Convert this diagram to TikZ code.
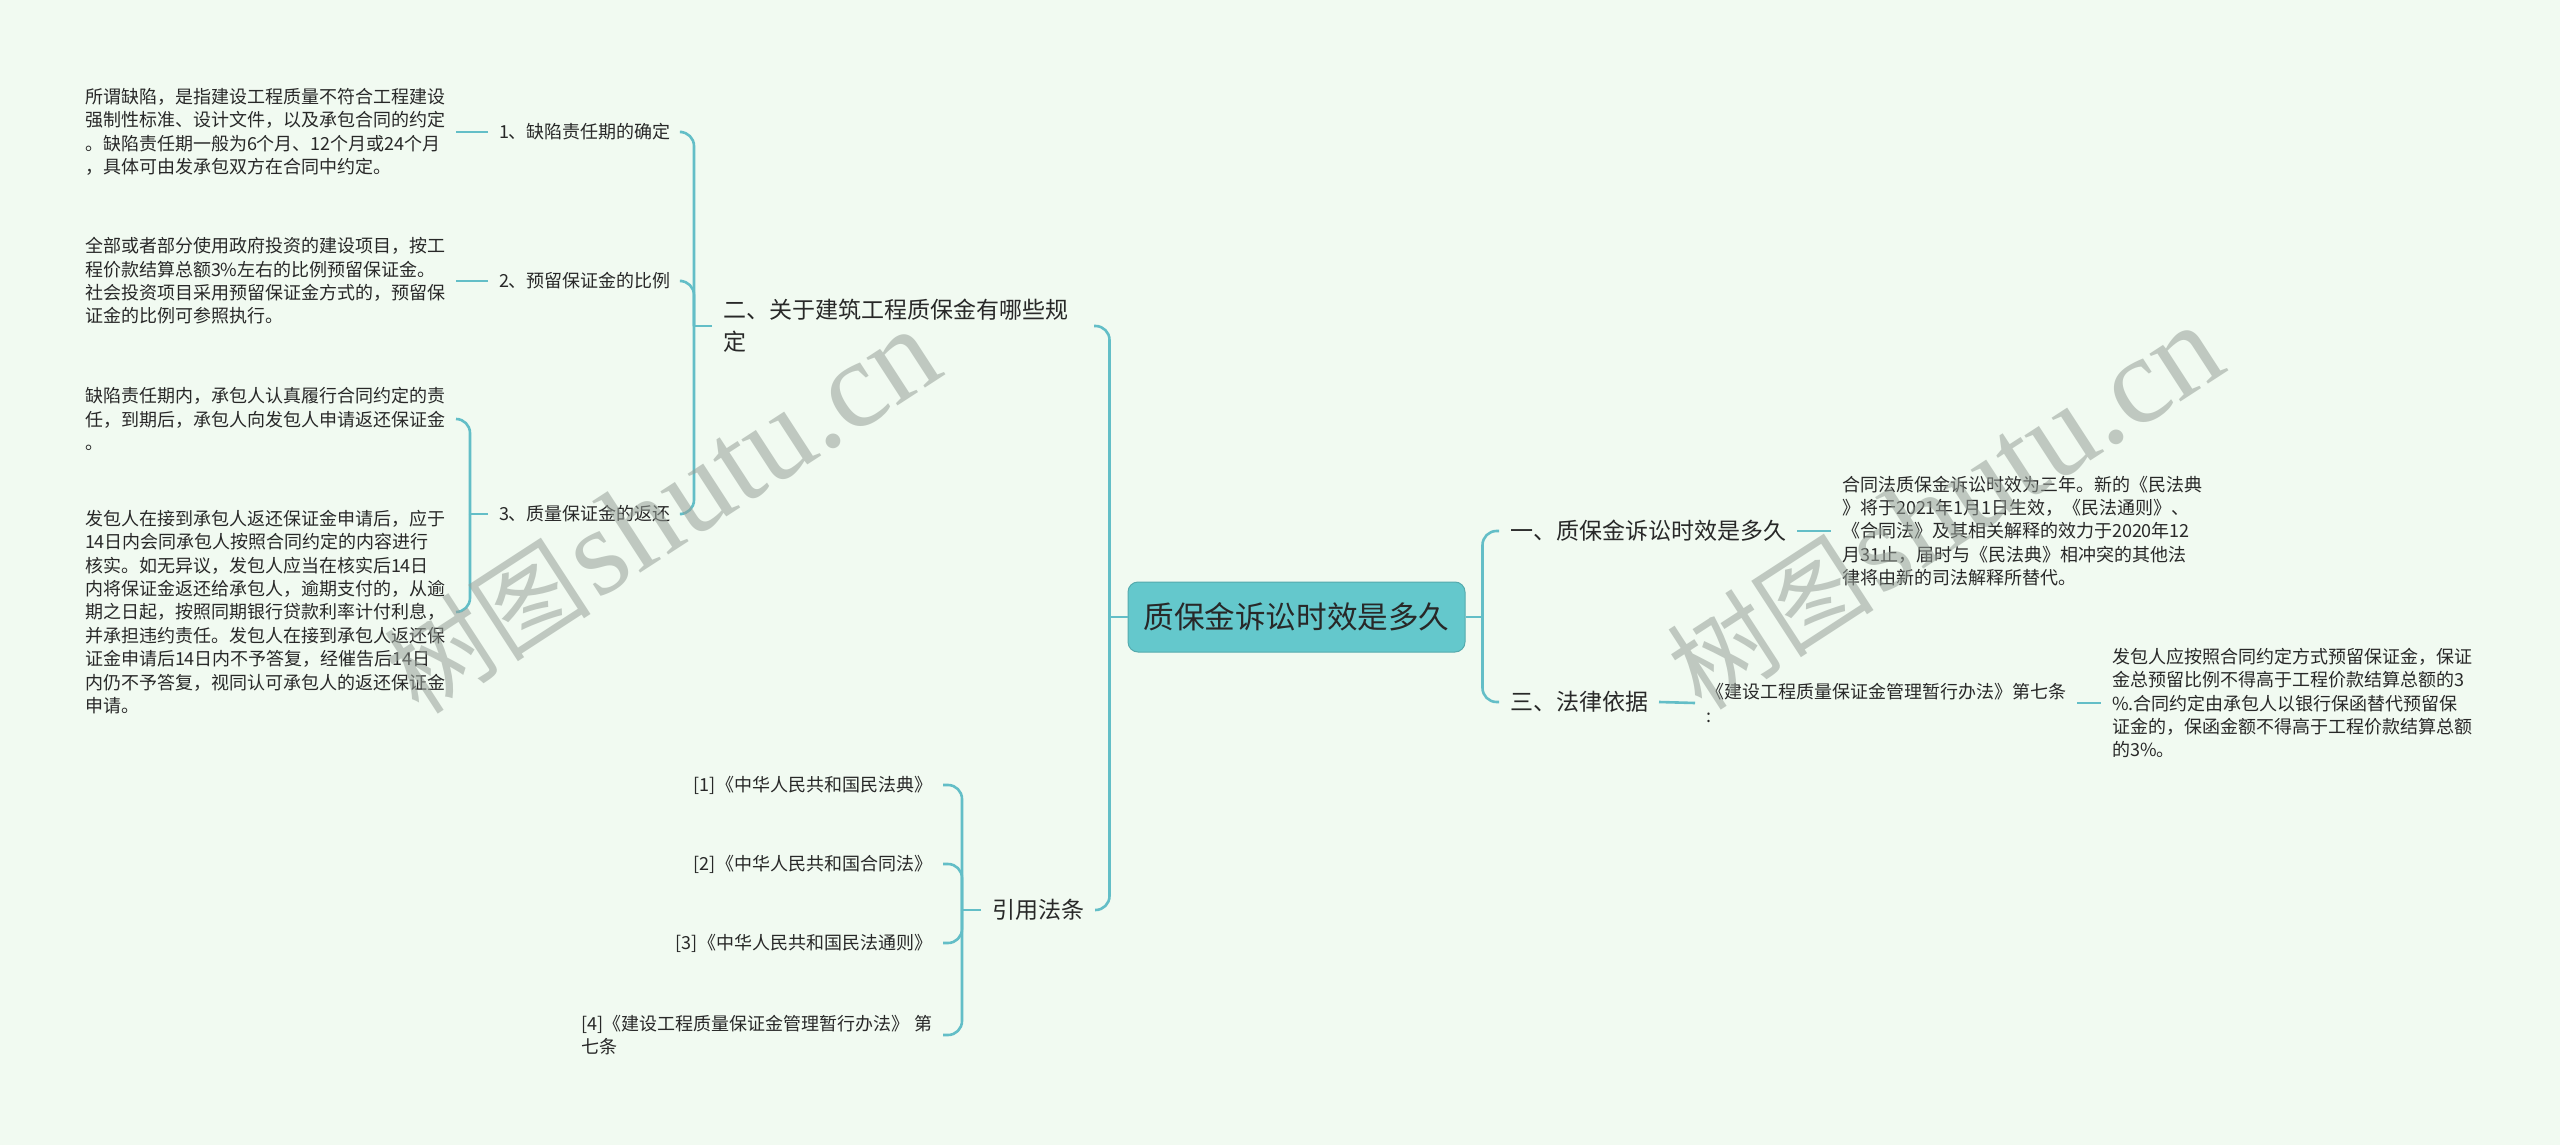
\documentclass[tikz,border=0pt]{standalone}
\usepackage{fontspec}
\setmainfont{Noto Sans CJK SC}
\newfontfamily\wmcjk{Noto Sans CJK SC}
\newfontfamily\wmlat{Liberation Serif}

\definecolor{bgc}{RGB}{241,250,241}
\definecolor{linkc}{RGB}{99,190,199}
\definecolor{rootc}{RGB}{100,200,204}
\definecolor{txtc}{RGB}{40,40,40}
\definecolor{wmc}{RGB}{150,160,152}

\tikzset{
    rootnode/.style={draw=rootc!85!black, fill=rootc, rounded corners=5pt, line width=0.5pt,
        minimum width=168.5pt, minimum height=35pt, inner sep=0pt, text=txtc,
        font=\fontsize{15.3pt}{18pt}\selectfont},
    topicnode/.style={inner xsep=5.5pt, inner ysep=2pt, outer sep=0pt, align=left, text=txtc,
        font=\fontsize{11.5pt}{16pt}\selectfont},
    itemnode/.style={inner xsep=5.5pt, inner ysep=2pt, outer sep=0pt, align=left, text=txtc,
        font=\fontsize{9pt}{11.7pt}\selectfont},
    notenode/.style={itemnode},
    linkline/.style={draw=linkc, line width=1.3pt, rounded corners=7pt},
    wmark/.style={text=wmc, opacity=0.55, rotate=33, inner sep=0pt}
}

\begin{document}
\begin{tikzpicture}[x=0.5pt, y=-0.5pt]
    \fill[bgc] (0,0) rectangle (2560,1145);
    \useasboundingbox (0,0) rectangle (2560,1145);

    % centre
    \node[rootnode] (root) at (1296.5,617) {质保金诉讼时效是多久};

    % right half
    \node[topicnode, anchor=west] (limit) at (1499,531) {一、质保金诉讼时效是多久};
    \node[topicnode, anchor=west] (basis) at (1499,702) {三、法律依据};
    \node[notenode, anchor=west] (limitnote) at (1831,531) {合同法质保金诉讼时效为三年。新的《民法典\\》将于2021年1月1日生效，《民法通则》、\\《合同法》及其相关解释的效力于2020年12\\月31止，届时与《民法典》相冲突的其他法\\律将由新的司法解释所替代。};
    \node[notenode, anchor=west] (article) at (1695,703) {《建设工程质量保证金管理暂行办法》第七条\\:};
    \node[notenode, anchor=west] (articlenote) at (2101,703) {发包人应按照合同约定方式预留保证金，保证\\金总预留比例不得高于工程价款结算总额的3\\\%.合同约定由承包人以银行保函替代预留保\\证金的，保函金额不得高于工程价款结算总额\\的3\%。};

    % left half
    \node[topicnode, anchor=west, text width=180pt] (rules) at (712,326) {二、关于建筑工程质保金有哪些规\\定};
    \node[topicnode, anchor=east] (cite) at (1095,910) {引用法条};

    \node[itemnode, anchor=west] (period) at (488,132) {1、缺陷责任期的确定};
    \node[itemnode, anchor=west] (ratio) at (488,281) {2、预留保证金的比例};
    \node[itemnode, anchor=west] (refund) at (488,514) {3、质量保证金的返还};

    \node[notenode, anchor=east] (periodnote) at (456,132) {所谓缺陷，是指建设工程质量不符合工程建设\\强制性标准、设计文件，以及承包合同的约定\\。缺陷责任期一般为6个月、12个月或24个月\\，具体可由发承包双方在合同中约定。};
    \node[notenode, anchor=east] (rationote) at (456,281) {全部或者部分使用政府投资的建设项目，按工\\程价款结算总额3\%左右的比例预留保证金。\\社会投资项目采用预留保证金方式的，预留保\\证金的比例可参照执行。};
    \node[notenode, anchor=east] (refundnote1) at (456,419) {缺陷责任期内，承包人认真履行合同约定的责\\任，到期后，承包人向发包人申请返还保证金\\。};
    \node[notenode, anchor=east] (refundnote2) at (456,612) {发包人在接到承包人返还保证金申请后，应于\\14日内会同承包人按照合同约定的内容进行\\核实。如无异议，发包人应当在核实后14日\\内将保证金返还给承包人，逾期支付的，从逾\\期之日起，按照同期银行贷款利率计付利息，\\并承担违约责任。发包人在接到承包人返还保\\证金申请后14日内不予答复，经催告后14日\\内仍不予答复，视同认可承包人的返还保证金\\申请。};

    \node[notenode, anchor=east] (cite1) at (943,785) {[1]《中华人民共和国民法典》};
    \node[notenode, anchor=east] (cite2) at (943,864) {[2]《中华人民共和国合同法》};
    \node[notenode, anchor=east] (cite3) at (943,943) {[3]《中华人民共和国民法通则》};
    \node[notenode, anchor=east] (cite4) at (943,1035) {[4]《建设工程质量保证金管理暂行办法》 第\\七条};

    % links
    \draw[linkline] (root.east) -- ++(17,0) coordinate (jroot);
    \foreach \t in {limit,basis}
        \draw[linkline] (jroot) |- (\t.west);
    \draw[linkline] (root.west) -- ++(-18,0) coordinate (jrootl);
    \foreach \t in {rules,cite}
        \draw[linkline] (jrootl) |- (\t.east);

    \draw[linkline] (limit.east) -- (limitnote.west);
    \draw[linkline] (basis.east) -- (article.west);
    \draw[linkline] (article.east) -- (articlenote.west);

    \draw[linkline] (rules.west) -- ++(-18,0) coordinate (jrules);
    \foreach \t in {period,ratio,refund}
        \draw[linkline] (jrules) |- (\t.east);
    \draw[linkline] (period.west) -- (periodnote.east);
    \draw[linkline] (ratio.west) -- (rationote.east);
    \draw[linkline] (refund.west) -- ++(-18,0) coordinate (jrefund);
    \foreach \t in {refundnote1,refundnote2}
        \draw[linkline] (jrefund) |- (\t.east);

    \draw[linkline] (cite.west) -- ++(-19,0) coordinate (jcite);
    \foreach \t in {cite1,cite2,cite3,cite4}
        \draw[linkline] (jcite) |- (\t.east);

    % watermark
    \node[wmark] (wmleft) at (662,512) {{\wmcjk\fontsize{52pt}{52pt}\selectfont 树图} {\wmlat\fontsize{62pt}{62pt}\selectfont shutu.cn}};
    \node[wmark] (wmright) at (1945,508) {{\wmcjk\fontsize{52pt}{52pt}\selectfont 树图} {\wmlat\fontsize{62pt}{62pt}\selectfont shutu.cn}};
\end{tikzpicture}
\end{document}
